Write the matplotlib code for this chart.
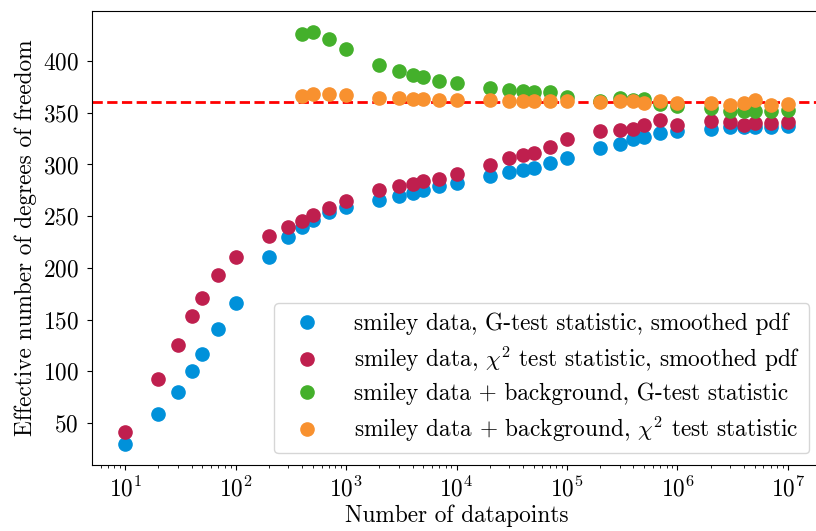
import matplotlib
matplotlib.use("Agg")
import matplotlib.pyplot as plt

plt.rcParams['font.family'] = 'serif'
plt.rcParams['font.serif'] = ['cmr10']
plt.rcParams['mathtext.fontset'] = 'cm'
plt.rcParams['axes.formatter.use_mathtext'] = True
plt.rcParams['font.size'] = 16.8
plt.rcParams['xtick.major.pad'] = 5
plt.rcParams['ytick.major.pad'] = 6

# number of datapoints
n_smiley = [10, 20, 30, 40, 50, 70, 100, 200, 300, 400, 500, 700,
            1e3, 2e3, 3e3, 4e3, 5e3, 7e3, 1e4, 2e4, 3e4, 4e4, 5e4, 7e4,
            1e5, 2e5, 3e5, 4e5, 5e5, 7e5, 1e6, 2e6, 3e6, 4e6, 5e6, 7e6, 1e7]
n_bg = [400, 500, 700,
        1e3, 2e3, 3e3, 4e3, 5e3, 7e3, 1e4, 2e4, 3e4, 4e4, 5e4, 7e4,
        1e5, 2e5, 3e5, 4e5, 5e5, 7e5, 1e6, 2e6, 3e6, 4e6, 5e6, 7e6, 1e7]

dof_g_smooth = [29.2, 58.4, 79.8, 100.4, 116.4, 140.8, 166.0, 210.3, 229.8, 239.8, 246.5, 253.6,
                259.0, 265.8, 269.2, 272.5, 275.4, 279.5, 282.0, 289.1, 292.7, 294.2, 296.8, 301.0,
                305.8, 316.0, 320.2, 324.7, 326.6, 330.2, 332.4, 334.6, 336.3, 336.3, 336.3, 336.5, 337.0]
dof_chi2_smooth = [40.8, 92.0, 125.4, 153.6, 170.6, 193.0, 210.3, 230.5, 239.2, 245.6, 251.3, 257.4,
                   264.8, 275.0, 279.5, 280.8, 284.0, 286.0, 290.5, 299.4, 306.4, 309.6, 311.2, 317.3,
                   324.4, 332.7, 333.4, 334.6, 337.9, 343.3, 338.5, 341.7, 341.0, 338.5, 339.8, 340.4, 341.0]
dof_g_bg = [426.6, 428.5, 421.2, 411.8, 396.5, 390.4, 386.3, 385.0, 380.8, 378.8,
            374.0, 372.5, 371.5, 370.5, 369.8, 365.7, 361.5, 364.1, 362.5, 362.9, 358.6, 356.4,
            354.5, 351.6, 351.6, 351.6, 351.3, 352.3]
dof_chi2_bg = [366.0, 367.7, 367.7, 367.0, 364.4, 364.1, 363.5, 362.9, 362.5, 362.5,
               362.2, 361.5, 361.5, 361.5, 361.5, 361.3, 360.3, 361.0, 361.0, 359.6, 361.0, 359.6,
               359.6, 357.1, 359.6, 362.2, 357.8, 358.4]

expected_dof = 360
decade_ticks = [1e1, 1e2, 1e3, 1e4, 1e5, 1e6, 1e7]

fig = plt.figure(figsize=(8.16, 5.31), dpi=100)
ax = fig.add_axes([92/816, 66/531, 729/816, 454/531])

ax.axhline(expected_dof, color='red', ls='--', lw=2, zorder=1)
ax.plot(n_smiley, dof_g_smooth, 'o', ms=9.5, color='#0091da',
        label='smiley data, G-test statistic, smoothed pdf')
ax.plot(n_smiley, dof_chi2_smooth, 'o', ms=9.5, color='#bf1f4e',
        label=r'smiley data, $\chi^2$ test statistic, smoothed pdf')
ax.plot(n_bg, dof_g_bg, 'o', ms=9.5, color='#44b02b',
        label='smiley data + background, G-test statistic')
ax.plot(n_bg, dof_chi2_bg, 'o', ms=9.5, color='#f8912f',
        label=r'smiley data + background, $\chi^2$ test statistic')

ax.set_xscale('log')
ax.set_xticks(decade_ticks)
ax.set_xlabel('Number of datapoints', labelpad=2)
ax.set_ylabel('Effective number of degrees of freedom', labelpad=4)
ax.legend(loc='lower right', handletextpad=1.0, labelspacing=0.38)

fig.savefig('out.png', dpi=100)
